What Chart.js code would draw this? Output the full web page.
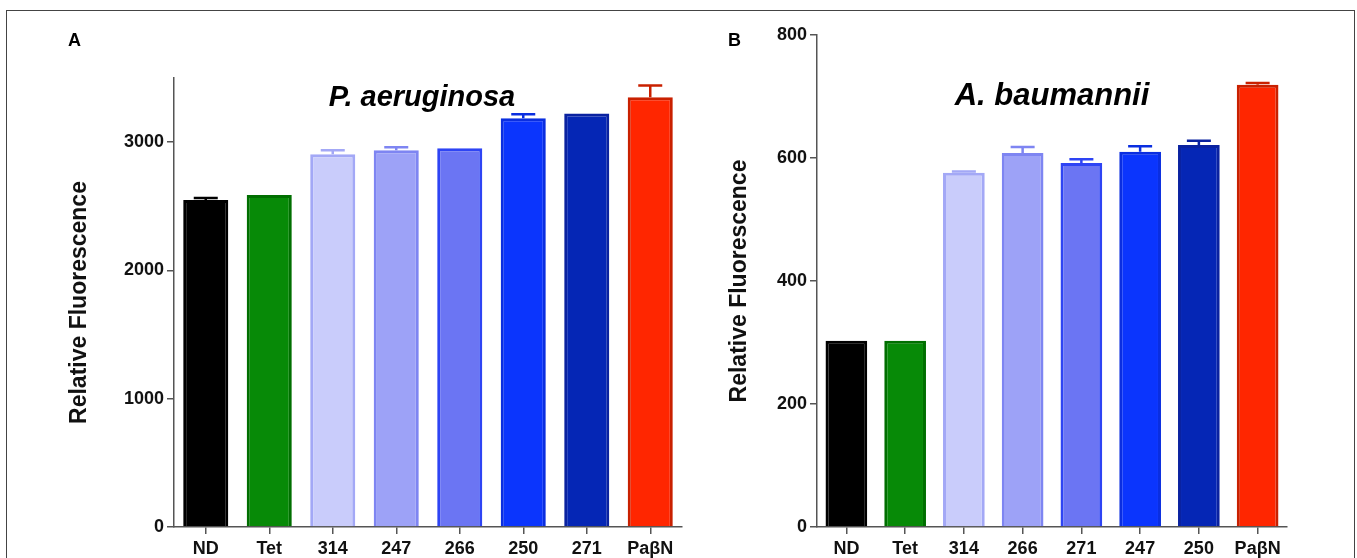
<!DOCTYPE html>
<html>
<head>
<meta charset="utf-8">
<script src="https://cdn.jsdelivr.net/npm/chart.js@4.4.1/dist/chart.umd.min.js"></script>
<style>
  html, body { margin: 0; padding: 0; background: #fff; }
  body { width: 1357px; height: 558px; position: relative; overflow: hidden; font-family: 'Liberation Sans', Arial, sans-serif; }
  #frame { position: absolute; left: 6px; top: 10px; width: 1347px; height: 600px; border: 1.5px solid #444; }
  .panel { position: absolute; top: 0; height: 558px; }
  #wrapA { left: 0; width: 690px; }
  #wrapB { left: 690px; width: 667px; }
  .letter { position: absolute; font-weight: bold; font-size: 18px; color: #000; }
  .species { position: absolute; font-weight: bold; font-style: italic; color: #000; white-space: nowrap; transform: translate(-50%, -50%); }
</style>
</head>
<body>
<div id="frame"></div>
<div class="panel" id="wrapA"><canvas id="chartA" width="690" height="558"></canvas></div>
<div class="panel" id="wrapB"><canvas id="chartB" width="667" height="558"></canvas></div>
<div class="letter" style="left:68px; top:30px;">A</div>
<div class="letter" style="left:728px; top:30px;">B</div>
<div class="species" style="left:422px; top:96px; font-size:29px;">P. aeruginosa</div>
<div class="species" style="left:1052px; top:95px; font-size:31px;">A. baumannii</div>
<script>
// ---------------------------------------------------------------------------
// Data
// ---------------------------------------------------------------------------
const labelsA = ['ND', 'Tet', '314', '247', '266', '250', '271', 'PaβN'];
const valuesA = [2549, 2587, 2906, 2937, 2953, 3186, 3224, 3349];
const errA    = [15, 0, 30, 23, 0, 31, 0, 93];
const ticksA  = [0, 1000, 2000, 3000];

const labelsB = ['ND', 'Tet', '314', '266', '271', '247', '250', 'PaβN'];
const valuesB = [303, 303, 576, 608, 592, 610, 621, 719];
const errB    = [0, 0, 2, 10, 6, 9, 7, 3];
const ticksB  = [0, 200, 400, 600, 800];

// bar colours by position (same order in both panels)
const fills   = ['#000000', '#078a07', '#c9ccfb', '#9da2f7', '#6b75f3', '#0b35fd', '#0526b5', '#ff2600'];
const borders = ['#000000', '#006f00', '#a3a8f6', '#7e85f2', '#2e44f4', '#0a2ee0', '#0a22a0', '#c92000'];

// ---------------------------------------------------------------------------
// Error bars (upper half only), drawn through the y scale
// ---------------------------------------------------------------------------
const errorBars = {
  id: 'errorBars',
  afterDatasetsDraw(chart, args, opts) {
    const { ctx } = chart;
    const y = chart.scales.y;
    const meta = chart.getDatasetMeta(0);
    const vals = chart.data.datasets[0].data;
    ctx.save();
    ctx.lineWidth = 2.5;
    meta.data.forEach((bar, i) => {
      const e = opts.errors[i];
      if (!e) return;
      const top = y.getPixelForValue(vals[i] + e);
      const base = y.getPixelForValue(vals[i]);
      ctx.strokeStyle = borders[i];
      ctx.beginPath();
      ctx.moveTo(bar.x, base);
      ctx.lineTo(bar.x, top);
      ctx.moveTo(bar.x - 12, top);
      ctx.lineTo(bar.x + 12, top);
      ctx.stroke();
    });
    ctx.restore();
  },
};

const tickFont = { family: "'Liberation Sans', Arial, sans-serif", size: 18, weight: 'bold' };
const axisColor = '#555';

function makeChart(id, labels, values, errors, ticks, max, pad, yWidth) {
  return new Chart(document.getElementById(id), {
    type: 'bar',
    data: {
      labels,
      datasets: [{
        data: values,
        backgroundColor: fills,
        borderColor: borders,
        borderWidth: 3,
        borderSkipped: 'start',
        categoryPercentage: 1,
        barPercentage: 0.71,
      }],
    },
    options: {
      responsive: false,
      animation: false,
      devicePixelRatio: 1,
      layout: { padding: pad },
      plugins: {
        legend: { display: false },
        tooltip: { enabled: false },
        errorBars: { errors },
      },
      scales: {
        x: {
          offset: true,
          grid: { display: true, drawOnChartArea: false, drawTicks: true, tickLength: 7, offset: false, color: axisColor, lineWidth: 1.5 },
          border: { color: axisColor, width: 1.5 },
          ticks: { color: '#111', font: tickFont, padding: 4, maxRotation: 0, autoSkip: false },
          afterFit(scale) { scale.height = 31; },
        },
        y: {
          min: 0,
          max,
          grid: { display: true, drawOnChartArea: false, drawTicks: true, tickLength: 7, color: axisColor, lineWidth: 1.5 },
          border: { color: axisColor, width: 1.5 },
          ticks: { color: '#111', font: tickFont, padding: 3, callback: v => String(v) },
          afterBuildTicks(scale) { scale.ticks = ticks.map(v => ({ value: v })); },
          afterFit(scale) { scale.width = yWidth; },
          title: {
            display: true,
            text: 'Relative Fluorescence',
            color: '#111',
            font: { family: "'Liberation Sans', Arial, sans-serif", size: 23, weight: 'bold' },
            padding: { top: 4, bottom: 4 },
          },
        },
      },
    },
    plugins: [errorBars],
  });
}

makeChart('chartA', labelsA, valuesA, errA, ticksA, 3500, { top: 78, right: 8, bottom: 0, left: 62 }, 112);
makeChart('chartB', labelsB, valuesB, errB, ticksB, 800, { top: 35, right: 70, bottom: 0, left: 32 }, 95);
</script>
</body>
</html>
